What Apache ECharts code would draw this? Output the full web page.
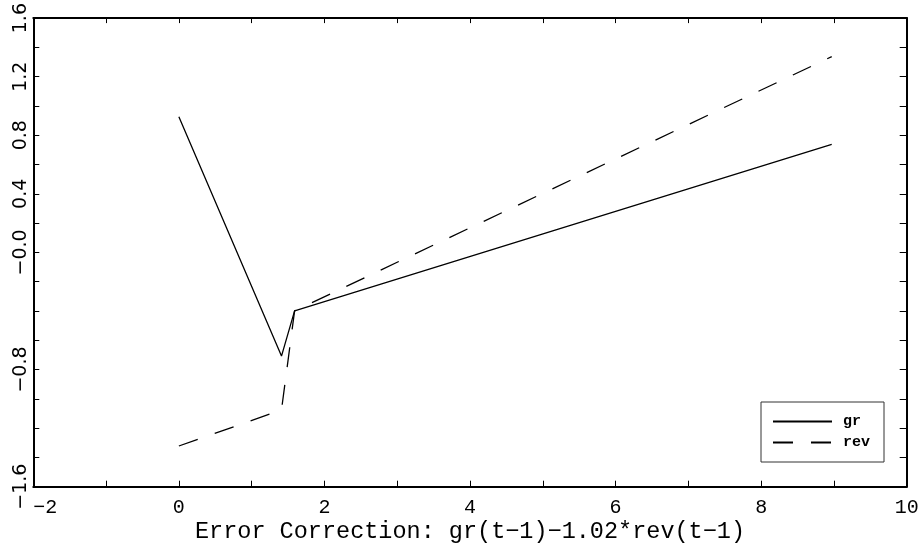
<!DOCTYPE html>
<html>
<head>
<meta charset="utf-8">
<script src="https://cdn.jsdelivr.net/npm/echarts@6/dist/echarts.min.js"></script>
<style>
html,body{margin:0;padding:0;background:#fff;}
#chart{width:922px;height:552px;}
</style>
</head>
<body>
<div id="chart"></div>
<script>
// Data
var xValues = [0, 1.41, 1.59, 8.97];
var grValues = [0.926, -0.708, -0.399, 0.737];
var revValues = [-1.322, -1.076, -0.399, 1.337];
var seriesNames = ['gr', 'rev'];
var xTickValues = [-2, 0, 2, 4, 6, 8, 10];
var xTickLabels = ['\u22122', '0', '2', '4', '6', '8', '10'];
var yTickValues = [-1.6, -0.8, 0, 0.4, 0.8, 1.2, 1.6];
var yTickLabels = ['\u22121.6', '\u22120.8', '\u22120.0', '0.4', '0.8', '1.2', '1.6'];
var xAxisTitle = 'Error Correction: gr(t\u22121)\u22121.02*rev(t\u22121)';

function pairs(xs, ys) {
  var out = [];
  for (var i = 0; i < xs.length; i++) out.push([xs[i], ys[i]]);
  return out;
}
function lookup(vals, labels, v) {
  for (var i = 0; i < vals.length; i++) {
    if (Math.abs(vals[i] - v) < 1e-6) return labels[i];
  }
  return '';
}

var chart = echarts.init(document.getElementById('chart'), null, {renderer: 'canvas'});
var axisLine = {show: true, onZero: false, lineStyle: {color: '#000', width: 2}};
var option = {
  animation: false,
  backgroundColor: '#fff',
  grid: {left: 33.3, right: 15.3, top: 18, bottom: 65.3, containLabel: false},
  legend: {
    data: seriesNames,
    orient: 'vertical',
    left: 761,
    top: 402,
    align: 'left',
    borderColor: '#333',
    borderWidth: 1,
    padding: [12, 14, 12, 11],
    itemWidth: 59,
    itemHeight: 14,
    itemGap: 6,
    itemStyle: {opacity: 0},
    textStyle: {fontFamily: 'Liberation Mono', fontWeight: 'bold', fontSize: 15, color: '#000', padding: [0, 0, 0, 6]}
  },
  xAxis: [{
    type: 'value', position: 'bottom', min: -2, max: 10, interval: 1,
    axisLine: axisLine,
    axisTick: {show: true, inside: true, length: 6, lineStyle: {color: '#000', width: 1}},
    splitLine: {show: false},
    axisLabel: {
      show: true, margin: 11, color: '#000', fontFamily: 'Liberation Mono', fontSize: 20,
      formatter: function (v) { return lookup(xTickValues, xTickLabels, v); },
      alignMinLabel: 'left'
    },
    name: xAxisTitle, nameLocation: 'middle', nameGap: 33, nameMoveOverlap: false,
    nameTextStyle: {fontFamily: 'Liberation Mono', fontSize: 23.5, color: '#000'}
  }, {
    type: 'value', position: 'top', min: -2, max: 10, interval: 1,
    axisLine: axisLine,
    axisTick: {show: true, inside: true, length: 5, lineStyle: {color: '#000', width: 1}},
    splitLine: {show: false},
    axisLabel: {show: false}
  }],
  yAxis: [{
    type: 'value', position: 'left', min: -1.6, max: 1.6, interval: 0.2,
    axisLine: axisLine,
    axisTick: {show: true, inside: true, length: 6, lineStyle: {color: '#000', width: 1}},
    splitLine: {show: false},
    axisLabel: {
      show: true, rotate: 90, margin: 3, color: '#000', fontFamily: 'DejaVu Sans', fontSize: 19,
      formatter: function (v) { return lookup(yTickValues, yTickLabels, v); }
    }
  }, {
    type: 'value', position: 'right', min: -1.6, max: 1.6, interval: 0.2,
    axisLine: axisLine,
    axisTick: {show: true, inside: true, length: 7, lineStyle: {color: '#000', width: 1}},
    splitLine: {show: false},
    axisLabel: {show: false}
  }],
  series: [{
    name: seriesNames[0], type: 'line', xAxisIndex: 0, yAxisIndex: 0,
    data: pairs(xValues, grValues), symbol: 'none', showSymbol: false,
    color: '#000',
    lineStyle: {color: '#000', width: 1.3, type: 'solid'}
  }, {
    name: seriesNames[1], type: 'line', xAxisIndex: 0, yAxisIndex: 0,
    data: pairs(xValues, revValues), symbol: 'none', showSymbol: false,
    color: '#000',
    lineStyle: {color: '#000', width: 1.3, type: [20, 18]}
  }]
};
chart.setOption(option);
</script>
</body>
</html>
